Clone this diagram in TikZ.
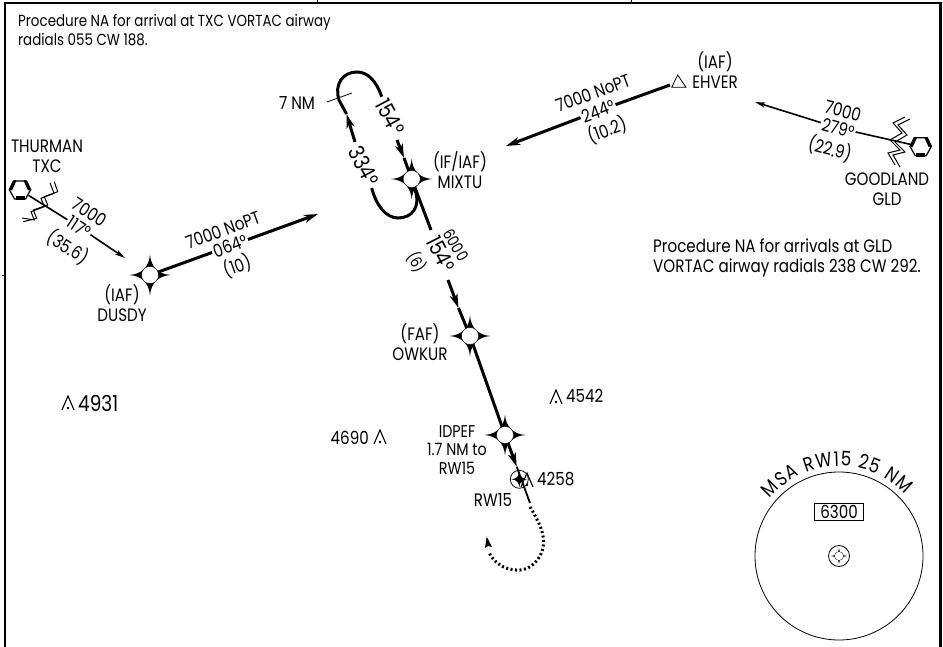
\documentclass[tikz,border=0pt]{standalone}
\usepackage{fontspec}
\setmainfont[FakeStretch=0.84]{Poppins}
\usetikzlibrary{arrows.meta,decorations.text,calc}
\tikzset{
  txt/.style={inner sep=0pt,font=\fontsize{18}{19.5}\selectfont,align=center,text=black},
  lbl/.style={txt,inner sep=1.5pt},
  big/.style={lbl,font=\fontsize{22}{24}\selectfont},
  thickln/.style={line width=3pt},
  thinln/.style={line width=1.6pt},
  tip/.style={-{Stealth[length=14pt,width=8pt,inset=4pt]}},
  tipthin/.style={-{Stealth[length=10pt,width=5pt,inset=2pt]}},
  zig/.style={line width=1pt,line join=miter},
  hub/.style={circle,draw=black,line width=0.3pt,fill=white,inner sep=0pt,minimum size=17pt},
  frameln/.style={line width=2.6pt},
}
\newcommand{\starsym}[2]{%
  \begin{scope}[shift={(#1)},scale=#2]
  \fill[black] (-20.5,0) .. controls (-14,-0.5) and (-9.5,-2.5) .. (-6,-6) .. controls (-2.5,-9.5) and (-0.5,-14) .. (0,-20.5)
     .. controls (0.5,-14) and (2.5,-9.5) .. (6,-6) .. controls (9.5,-2.5) and (14,-0.5) .. (20.5,0)
     .. controls (14,0.5) and (9.5,2.5) .. (6,6) .. controls (2.5,9.5) and (0.5,14) .. (0,20.5)
     .. controls (-0.5,14) and (-2.5,9.5) .. (-6,6) .. controls (-9.5,2.5) and (-14,0.5) .. cycle;
  \end{scope}}
\newcommand{\fixsym}[2]{%
  \starsym{#2}{1}
  \node[hub] (#1) at (#2) {};}
\newcommand{\vorsym}[2]{%
  \begin{scope}[shift={(#2)}]
  \draw[line width=1.2pt,fill=white] (-10.5,0) -- (-5.5,-9) -- (5.5,-9) -- (10.5,0) -- (5.5,9) -- (-5.5,9) -- cycle;
  \fill (-11.5,0) -- (-7,-9.5) -- (-3.5,-9.5) -- (-8,0.5) -- cycle;
  \fill (3.5,-9.5) -- (7,-9.5) -- (11.5,0) -- (8,0.5) -- cycle;
  \fill (-4.5,6.5) rectangle (4.5,10);
  \end{scope}}
\newcommand{\obst}[1]{%
  \draw[line width=1.1pt] (#1) ++(-6,7) -- ++(6,-14) -- ++(6,14);
  \fill (#1) ++(0,5) circle (1.3);}
\begin{document}
\begin{tikzpicture}[x=1pt,y=-1pt]
\useasboundingbox (0,0) rectangle (943,647);
% frame
\draw[frameln] (5,647) -- (5,3) -- (940.5,3) -- (940.5,647);
\draw[line width=0.8pt] (317,0) -- (317,3) (631,0) -- (631,3);
\draw[line width=0.8pt] (2,275) -- (5,275);
% notes
\node[txt,anchor=west,align=left,font=\fontsize{16}{19.5}\selectfont] (noteA) at (18,30) {Procedure NA for arrival at TXC VORTAC airway\\radials 055 CW 188.};
\node[txt,anchor=west,align=left] (noteB) at (653,258) {Procedure NA for arrivals at GLD\\VORTAC airway radials 238 CW 292.};
% fixes
\fixsym{mixtu}{411.7,179}
\fixsym{dusdy}{150,275}
\fixsym{owkur}{470,336}
\fixsym{idpef}{505,435}
% names
\node[txt] (mixtuT) at (460,170) {(IF/IAF)\\MIXTU};
\node[txt] (dusdyT) at (122,303) {(IAF)\\DUSDY};
\node[txt] (owkurT) at (420,342) {(FAF)\\OWKUR};
\node[txt,font=\fontsize{17}{18.5}\selectfont] (idpefT) at (457,450) {IDPEF\\1.7 NM to\\RW15};
\node[txt] (rwT) at (493,500) {RW15};
\node[txt] (ehverT) at (715,70) {(IAF)\\EHVER};
\node[txt] (thurT) at (47,156.5) {THURMAN\\TXC};
\node[txt] (gldT) at (887,189) {GOODLAND\\GLD};
% labels
\node[lbl,rotate=20] (a1) at (223,230) {7000 NoPT};
\node[lbl,rotate=20] (a2) at (230,246) {064°};
\node[lbl,rotate=20] (a3) at (237,266) {(10)};
\node[lbl,rotate=-33] (b1) at (90,212) {7000};
\node[lbl,rotate=-33] (b2) at (79,227) {117°};
\node[lbl,rotate=-33] (b3) at (68,247) {(35.6)};
\node[lbl,rotate=20] (c1) at (593,93) {7000 NoPT};
\node[lbl,rotate=20] (c2) at (598,111) {244°};
\node[lbl,rotate=20] (c3) at (607,130) {(10.2)};
\node[lbl,rotate=-15] (d1) at (843,111) {7000};
\node[lbl,rotate=-15] (d2) at (838,128) {279°};
\node[lbl,rotate=-15] (d3) at (830,149) {(22.9)};
\node[big,rotate=-62] (h1) at (390,117) {154°};
\node[big,rotate=-62] (h2) at (364,166) {334°};
\node[big,rotate=-63] (f1) at (441,254) {154°};
\node[lbl,rotate=-60,font=\fontsize{16}{18}\selectfont] (f2) at (456,245) {6000};
\node[lbl,rotate=-60,font=\fontsize{16}{18}\selectfont] (f3) at (417,262) {(6)};
\node[txt] (sevenT) at (297,103) {7 NM};
% hold
\coordinate (h3) at (381.7,96.7);
\coordinate (h4) at (355,142);
\coordinate (h5) at (371.7,188);
\coordinate (h6) at (415,190);
\coordinate (h7) at (397,140);
\coordinate (h8) at (404,158);
\coordinate (h9) at (346.5,114);
\draw[thickln] (h3) .. controls (376,80) and (367,72) .. (357,72) .. controls (343,72) and (334,84) .. (339,100) -- (h9);
\draw[thickln,{Stealth[length=14pt,width=8pt,inset=4pt]}-] (h9) -- (h4);
\draw[thickln] (h5) .. controls (376,205) and (386,218) .. (398,218) .. controls (412,218) and (421,207) .. (h6);
\draw[thickln,tip] (h7) -- (h8);
\draw[thickln] (h8) -- (mixtu);
\draw[line width=0.8pt] (327,102) -- (352,93);
% inbound
\draw[thickln] (mixtu) -- (431,230);
\coordinate (k1) at (448,280);
\coordinate (k2) at (458.5,308);
\draw[thickln,tip] (k1) -- (k2);
\draw[thickln] (k2) -- (owkur);
\draw[thickln] (owkur) -- (idpef);
\node[circle,draw,line width=0.8pt,fill=white,minimum size=18pt,inner sep=0pt] (apt) at (519.3,479.3) {};
\starsym{519.3,479.3}{0.38}
\coordinate (k3) at (516.7,466.7);
\draw[thickln,tip] (idpef) -- (k3);
\draw[line width=1.8pt] (k3) -- (530,503);
\draw[line width=3pt,dash pattern=on 2pt off 2.5pt] (530,507) .. controls (538,520) and (546,535) .. (543,548) .. controls (538,566) and (525,571) .. (516,570) .. controls (504,569) and (495,564) .. (488.5,552);
\fill (486.7,536.7) -- (492,547) -- (488,546) -- (485,548) -- cycle;
% DUSDY to MIXTU direction
\coordinate (e1) at (318,214);
\draw[thickln] (dusdy) -- (a2);
\draw[thickln,tip] (a2) -- (e1);
\node[inner sep=0pt,minimum size=20pt,circle] (txc) at (20,190) {};
\draw[thinln] (txc) -- (b2);
\coordinate (e2) at (125,258);
\draw[thinln,tipthin] (b2) -- (e2);
\draw[zig] (54.3,181.7) -- (57.7,191.7) -- (44.3,196.7) -- (47.7,205) -- (33.3,210) -- (36.7,218.3) -- (23.3,221.7);
\draw[zig] (50,182.7) -- (54,193.3) -- (41,198.3) -- (44.3,206.7) -- (31,211.7) -- (34.3,220) -- (22,218);
\vorsym{txcS}{20,190}
% EHVER
\coordinate (ehv) at (670,85);
\draw[line width=0.8pt] (677.7,75) -- (686,87.3) -- (671.7,87.3) -- cycle;
\coordinate (e3) at (506,146);
\draw[thickln] (ehv) -- (c2);
\draw[thickln,tip] (c2) -- (e3);
% GOODLAND
\node[inner sep=0pt,minimum size=20pt,circle] (gld) at (920.7,146.7) {};
\coordinate (e5) at (755,102);
\draw[thinln] (gld) -- (d2);
\draw[thinln,tipthin] (d2) -- (e5);
\draw[zig] (905,117) -- (893,123) -- (902,133) -- (890,140) -- (900,150) -- (888,153) -- (895,165);
\draw[zig] (910,119) -- (898,125) -- (907,135) -- (895,142) -- (905,152) -- (893,155) -- (900,167);
\vorsym{gldS}{920.7,146.7}
% obstacles
\obst{68,403}
\node[txt,anchor=west,font=\fontsize{22}{24}\selectfont] (o1) at (78,403) {4931};
\obst{380,437}
\node[txt,anchor=east] (o2) at (369,438) {4690};
\obst{556,397}
\node[txt,anchor=west] (o3) at (566,396) {4542};
\obst{527,480}
\node[txt,anchor=west] (o4) at (537,479) {4258};
% MSA
\node[circle,draw,line width=0.8pt,minimum size=168pt,inner sep=0pt] (msa) at (839,556) {};
\node[draw,line width=0.8pt,txt,inner sep=0pt,minimum width=49pt,minimum height=17pt] (msaV) at (839,512) {6300};
\node[circle,draw,line width=0.8pt,minimum size=21pt,inner sep=0pt] (msaC) at (839,556) {};
\starsym{839,556}{0.38}
\node[circle,fill=white,inner sep=0pt,minimum size=9pt,draw,line width=0.3pt] (msaH) at (839,556) {};
\path[decorate,decoration={text along path,text align={fit to path},text={|\fontsize{20}{22}\selectfont|MSA RW15 25 NM}}]
   (770.1,498.2) arc[start angle=140,end angle=43,x radius=90,y radius=-90];
\end{tikzpicture}
\end{document}
